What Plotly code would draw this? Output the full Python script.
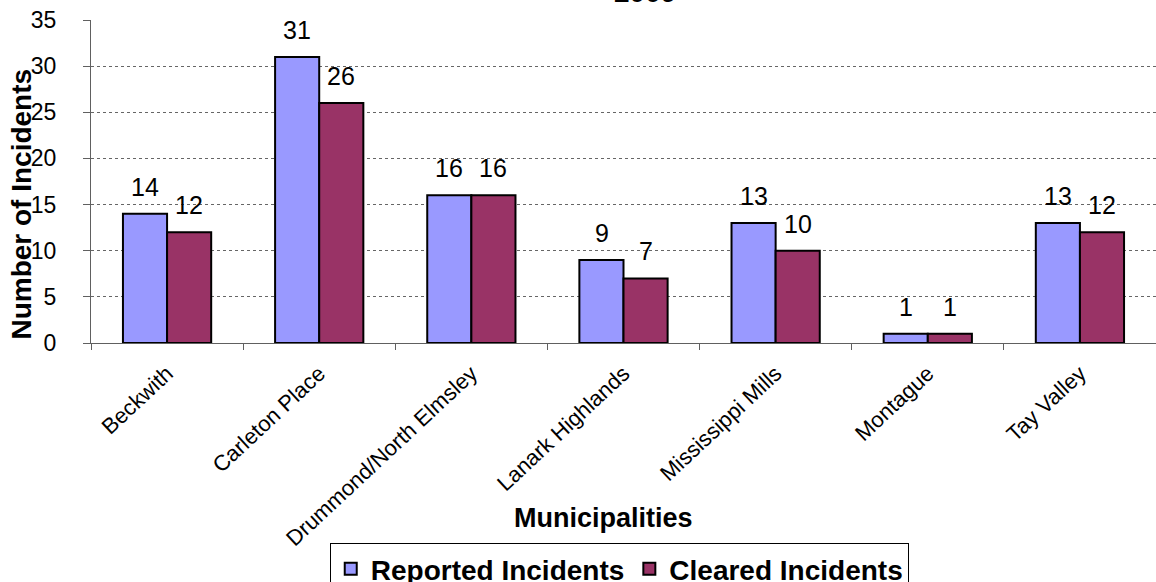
import plotly.graph_objects as go

municipalities = ["Beckwith", "Carleton Place", "Drummond/North Elmsley", "Lanark Highlands",
                  "Mississippi Mills", "Montague", "Tay Valley"]
reported = [14, 31, 16, 9, 13, 1, 13]
cleared = [12, 26, 16, 7, 10, 1, 12]
y_ticks = [0, 5, 10, 15, 20, 25, 30, 35]

FONT = "Arial, Liberation Sans, sans-serif"

fig = go.Figure()
fig.add_trace(go.Bar(
    name="Reported Incidents", x=municipalities, y=reported,
    marker=dict(color="#9999FF", line=dict(color="#000000", width=2)),
))
fig.add_trace(go.Bar(
    name="Cleared Incidents", x=municipalities, y=cleared,
    marker=dict(color="#993366", line=dict(color="#000000", width=2)),
))

# value labels above each bar
annotations = []
for vals, shift in ((reported, -22), (cleared, 22)):
    for cat, v in zip(municipalities, vals):
        annotations.append(dict(
            x=cat, y=v, xref="x", yref="y", text=str(v), showarrow=False,
            xanchor="center", yanchor="bottom", xshift=shift, yshift=11,
            font=dict(family=FONT, size=25, color="#000"),
        ))

annotations.append(dict(
    text="<b>2009</b>", xref="paper", yref="paper", x=0.52, y=1.0,
    xanchor="center", yanchor="bottom", yshift=10, showarrow=False,
    font=dict(family=FONT, size=28, color="#000"),
))
annotations.append(dict(
    text="<b>Municipalities</b>", xref="paper", yref="paper", x=0.481, y=-0.542,
    xanchor="center", yanchor="middle", showarrow=False,
    font=dict(family=FONT, size=27, color="#000"),
))
annotations.append(dict(
    text="<b>Number of Incidents</b>", xref="paper", yref="paper", x=-0.0653, y=0.43,
    xanchor="center", yanchor="middle", textangle=-90, showarrow=False,
    font=dict(family=FONT, size=28, color="#000"),
))

fig.update_layout(
    width=1156, height=582,
    margin=dict(l=91, r=0, t=20, b=239, autoexpand=False),
    paper_bgcolor="white", plot_bgcolor="white",
    barmode="group", bargap=0.42, bargroupgap=0,
    font=dict(family=FONT, color="#000"),
    showlegend=True,
    legend=dict(
        orientation="h", x=0.496, xanchor="center", y=-0.619, yanchor="top",
        font=dict(family=FONT, size=28, color="#000", weight="bold"),
        bordercolor="#000", borderwidth=1, bgcolor="white",
        itemwidth=30, tracegroupgap=0,
    ),
    xaxis=dict(
        tickangle=-43, tickfont=dict(family=FONT, size=22),
        showline=True, linecolor="#606060", linewidth=1,
        ticks="outside", tickson="boundaries", ticklen=6, tickcolor="#606060",
        ticklabelstandoff=8, automargin=False,
    ),
    yaxis=dict(
        range=[0, 35], tickvals=y_ticks, tickfont=dict(family=FONT, size=23),
        showline=True, linecolor="#606060", linewidth=1,
        ticks="outside", ticklen=7, tickcolor="#606060", ticklabelstandoff=22,
        showgrid=True, gridcolor="#666666", griddash="dot", gridwidth=1,
        zeroline=False, automargin=False,
    ),
    annotations=annotations,
)

fig.write_html("out.html", config={"displayModeBar": False},
               post_script="document.body.style.margin='0px';")
